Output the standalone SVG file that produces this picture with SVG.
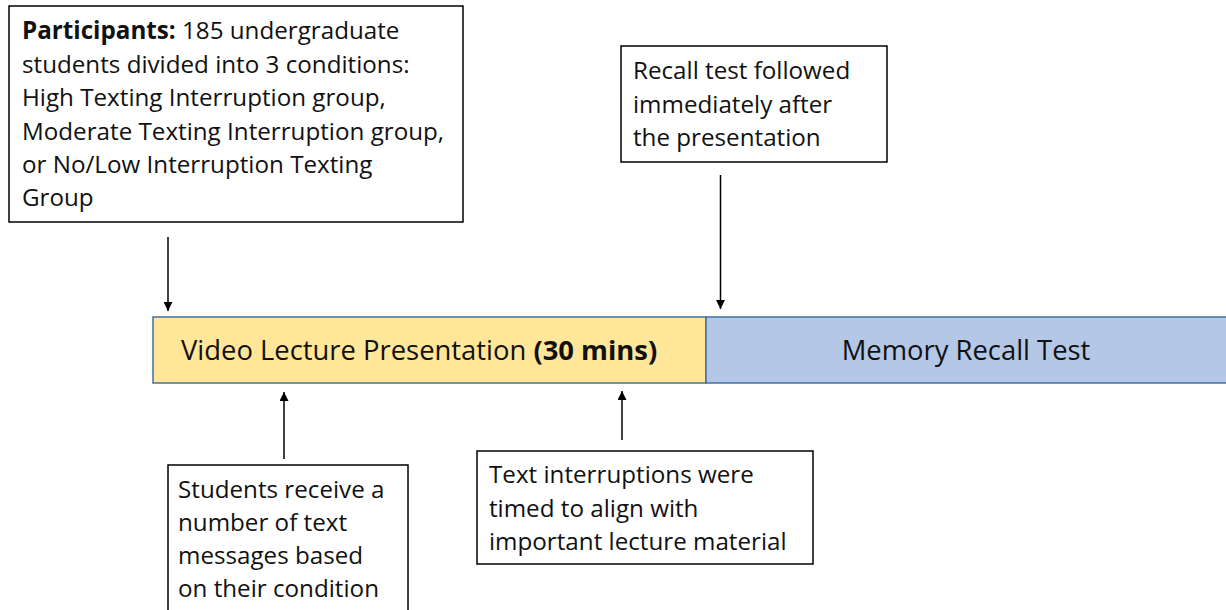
<svg xmlns="http://www.w3.org/2000/svg" width="1226" height="610" viewBox="0 0 1226 610">
<style>
.box{fill:#ffffff;stroke:#000000;stroke-width:1.5}
.t{font-family:"Open Sans",Lato,sans-serif;font-size:24.2px;fill:#111111}
.bt{font-family:"Open Sans",Lato,sans-serif;font-size:27.4px;fill:#111111}
.b{font-weight:bold}
.conn{stroke:#000000;stroke-width:1.5;fill:none;marker-end:url(#arr)}
</style>
<defs>
<marker id="arr" viewBox="0 0 10 10" refX="10" refY="5" markerWidth="9" markerHeight="9" markerUnits="userSpaceOnUse" orient="auto">
<path d="M0,0 L10,5 L0,10 z" fill="#000000"/>
</marker>
</defs>
<rect width="1226" height="610" fill="#ffffff"/>
<g id="participants">
<rect class="box" x="9" y="6" width="454" height="216"/>
<text class="t" x="22" y="39"><tspan class="b">Participants:</tspan> 185 undergraduate</text>
<text class="t" x="22" y="73">students divided into 3 conditions:</text>
<text class="t" x="22" y="106">High Texting Interruption group,</text>
<text class="t" x="22" y="140">Moderate Texting Interruption group,</text>
<text class="t" x="22" y="173">or No/Low Interruption Texting</text>
<text class="t" x="22" y="206">Group</text>
</g>
<g id="recall-note">
<rect class="box" x="621" y="46" width="266" height="116"/>
<text class="t" x="633" y="79">Recall test followed</text>
<text class="t" x="633" y="113">immediately after</text>
<text class="t" x="633" y="146">the presentation</text>
</g>
<g id="video-lecture">
<rect x="153" y="317" width="553" height="66" fill="#FFE699" stroke="#41719C" stroke-width="1.5"/>
<text class="bt" x="181" y="360">Video Lecture Presentation <tspan class="b">(30 mins)</tspan></text>
</g>
<g id="memory-recall">
<rect x="706" y="317" width="524" height="66" fill="#B4C7E7" stroke="#41719C" stroke-width="1.5"/>
<text class="bt" x="966" y="360" text-anchor="middle">Memory Recall Test</text>
</g>
<g id="students-note">
<rect class="box" x="168" y="465" width="240" height="160"/>
<text class="t" x="178" y="498">Students receive a</text>
<text class="t" x="178" y="531">number of text</text>
<text class="t" x="178" y="564">messages based</text>
<text class="t" x="178" y="597">on their condition</text>
</g>
<g id="interruptions-note">
<rect class="box" x="477" y="451" width="336" height="113"/>
<text class="t" x="489" y="483">Text interruptions were</text>
<text class="t" x="489" y="517">timed to align with</text>
<text class="t" x="489" y="550">important lecture material</text>
</g>
<g id="connectors">
<line class="conn" x1="168" y1="237" x2="168" y2="311"/>
<line class="conn" x1="720.5" y1="175" x2="720.5" y2="309"/>
<line class="conn" x1="284" y1="459" x2="284" y2="392"/>
<line class="conn" x1="622" y1="440" x2="622" y2="391"/>
</g>
</svg>
